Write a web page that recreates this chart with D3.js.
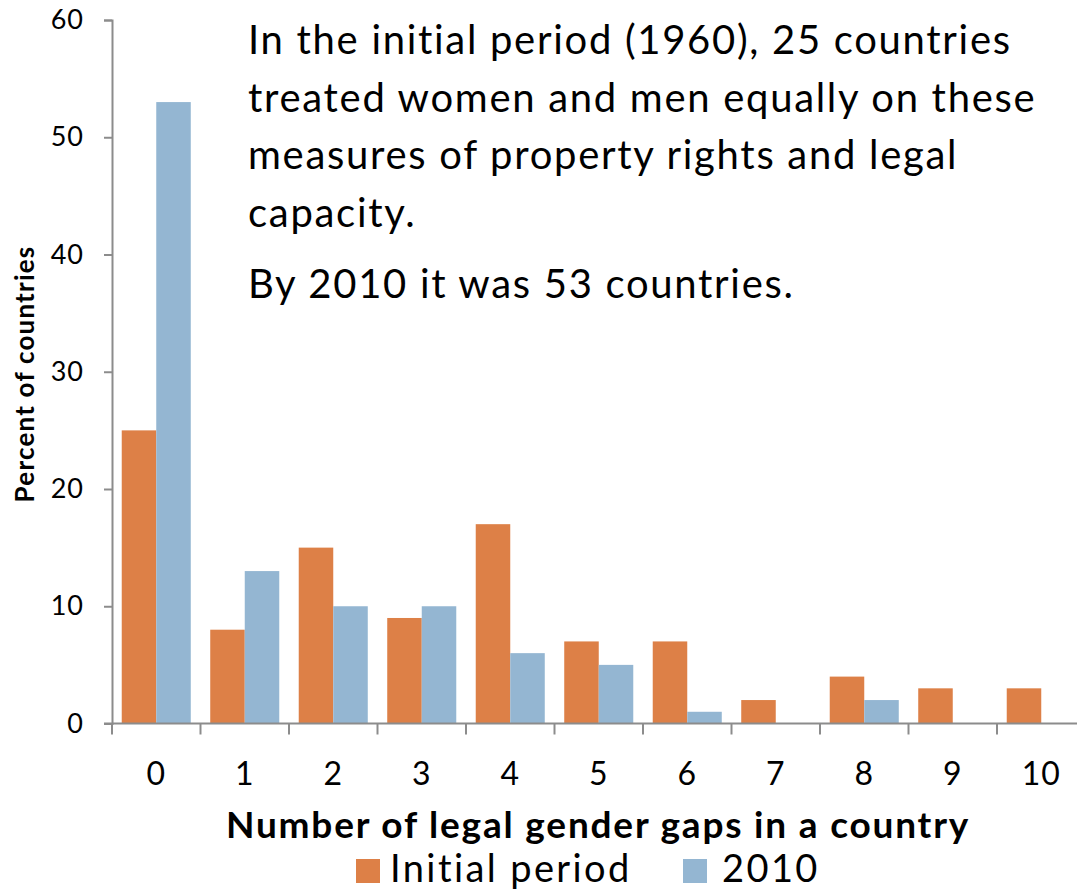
<!DOCTYPE html>
<html>
<head>
<meta charset="utf-8">
<script src="https://cdn.jsdelivr.net/npm/d3@7"></script>
<style>
  body { margin: 0; background: #fff; }
  svg text { font-family: Lato, "Open Sans", sans-serif; fill: #000; }
</style>
</head>
<body>
<svg id="chart" width="1077" height="891"></svg>
<script>
// data
var categories = ["0", "1", "2", "3", "4", "5", "6", "7", "8", "9", "10"];
var seriesNames = ["Initial period", "2010"];
var initialPeriod = [25, 8, 15, 9, 17, 7, 7, 2, 4, 3, 3];
var year2010 = [53, 13, 10, 10, 6, 5, 1, 0, 2, 0, 0];
var yTicks = [0, 10, 20, 30, 40, 50, 60];
var noteLines = [
  "In the initial period (1960), 25 countries",
  "treated women and men equally on these",
  "measures of property rights and legal",
  "capacity."
];
var noteLine2 = "By 2010 it was 53 countries.";

var colors = ["#DD8047", "#94B6D2"];
var axisColor = "#8c8c8c";

var svg = d3.select("#chart");

var x0 = d3.scaleBand().domain(categories).range([112, 1085.5]).paddingInner(0.22).paddingOuter(0.11);
var x1 = d3.scaleBand().domain(seriesNames).range([0, x0.bandwidth()]);
var y = d3.scaleLinear().domain([0, 60]).range([723.5, 20]);

var rows = categories.map(function(c, i) {
  return {cat: c, vals: [initialPeriod[i], year2010[i]]};
});

// bars
var groups = svg.append("g").selectAll("g")
  .data(rows)
  .enter().append("g")
  .attr("transform", function(d) { return "translate(" + x0(d.cat) + ",0)"; });

groups.selectAll("rect")
  .data(function(d) { return d.vals.map(function(v, j) { return {name: seriesNames[j], v: v, j: j}; }); })
  .enter().append("rect")
  .attr("x", function(d) { return x1(d.name); })
  .attr("width", x1.bandwidth())
  .attr("y", function(d) { return y(d.v); })
  .attr("height", function(d) { return y(0) - y(d.v); })
  .attr("fill", function(d) { return colors[d.j]; });

// y axis
var yAxis = svg.append("g")
  .attr("transform", "translate(112,0)")
  .call(d3.axisLeft(y).tickValues(yTicks).tickSize(8).tickPadding(20));
yAxis.select(".domain").attr("stroke", axisColor).attr("stroke-width", 2);
yAxis.selectAll(".tick line").attr("stroke", axisColor).attr("stroke-width", 2);
yAxis.selectAll(".tick text").style("font-size", "27px").style("letter-spacing", "1px");

// x axis: ticks sit on category boundaries
var xAxis = svg.append("g").attr("transform", "translate(0," + y(0) + ")");
xAxis.append("line")
  .attr("x1", 104).attr("x2", 1085.5)
  .attr("stroke", axisColor).attr("stroke-width", 2);
var bounds = categories.map(function(c) { return x0(c) - x0.step() * x0.paddingInner() / 2; });
xAxis.selectAll(".bt")
  .data(bounds)
  .enter().append("line")
  .attr("x1", function(d) { return d; }).attr("x2", function(d) { return d; })
  .attr("y1", 0).attr("y2", 11)
  .attr("stroke", axisColor).attr("stroke-width", 2);
xAxis.selectAll(".lab")
  .data(categories)
  .enter().append("text")
  .attr("x", function(d) { return x0(d) + x0.bandwidth() / 2; })
  .attr("y", 61)
  .attr("text-anchor", "middle")
  .style("font-size", "32px")
  .style("letter-spacing", "1px")
  .text(function(d) { return d; });

// axis titles
svg.append("text")
  .attr("transform", "translate(34,374) rotate(-90)")
  .attr("text-anchor", "middle")
  .style("font-size", "26px")
  .style("font-weight", "bold")
  .style("letter-spacing", "1.2px")
  .text("Percent of countries");

svg.append("text")
  .attr("x", 598).attr("y", 838)
  .attr("text-anchor", "middle")
  .style("font-size", "37px")
  .style("font-weight", "bold")
  .style("letter-spacing", "1.8px")
  .text("Number of legal gender gaps in a country");

// legend
var legendX = [356, 683];
var legend = svg.append("g").selectAll("g")
  .data(seriesNames)
  .enter().append("g")
  .attr("transform", function(d, i) { return "translate(" + legendX[i] + ",859)"; });
legend.append("rect").attr("width", 24).attr("height", 24)
  .attr("fill", function(d, i) { return colors[i]; });
legend.append("text").attr("x", function(d, i) { return i ? 39 : 34; }).attr("y", 23)
  .style("font-size", "38px")
  .style("letter-spacing", "2.4px")
  .text(function(d) { return d; });

// annotation
var note = svg.append("g")
  .style("font-size", "40px")
  .style("letter-spacing", "1.7px");
note.selectAll("text")
  .data(noteLines)
  .enter().append("text")
  .attr("x", 248)
  .attr("y", function(d, i) { return 54 + i * 57.5; })
  .text(function(d) { return d; });
note.append("text")
  .attr("x", 248).attr("y", 298)
  .text(noteLine2);
</script>
</body>
</html>
